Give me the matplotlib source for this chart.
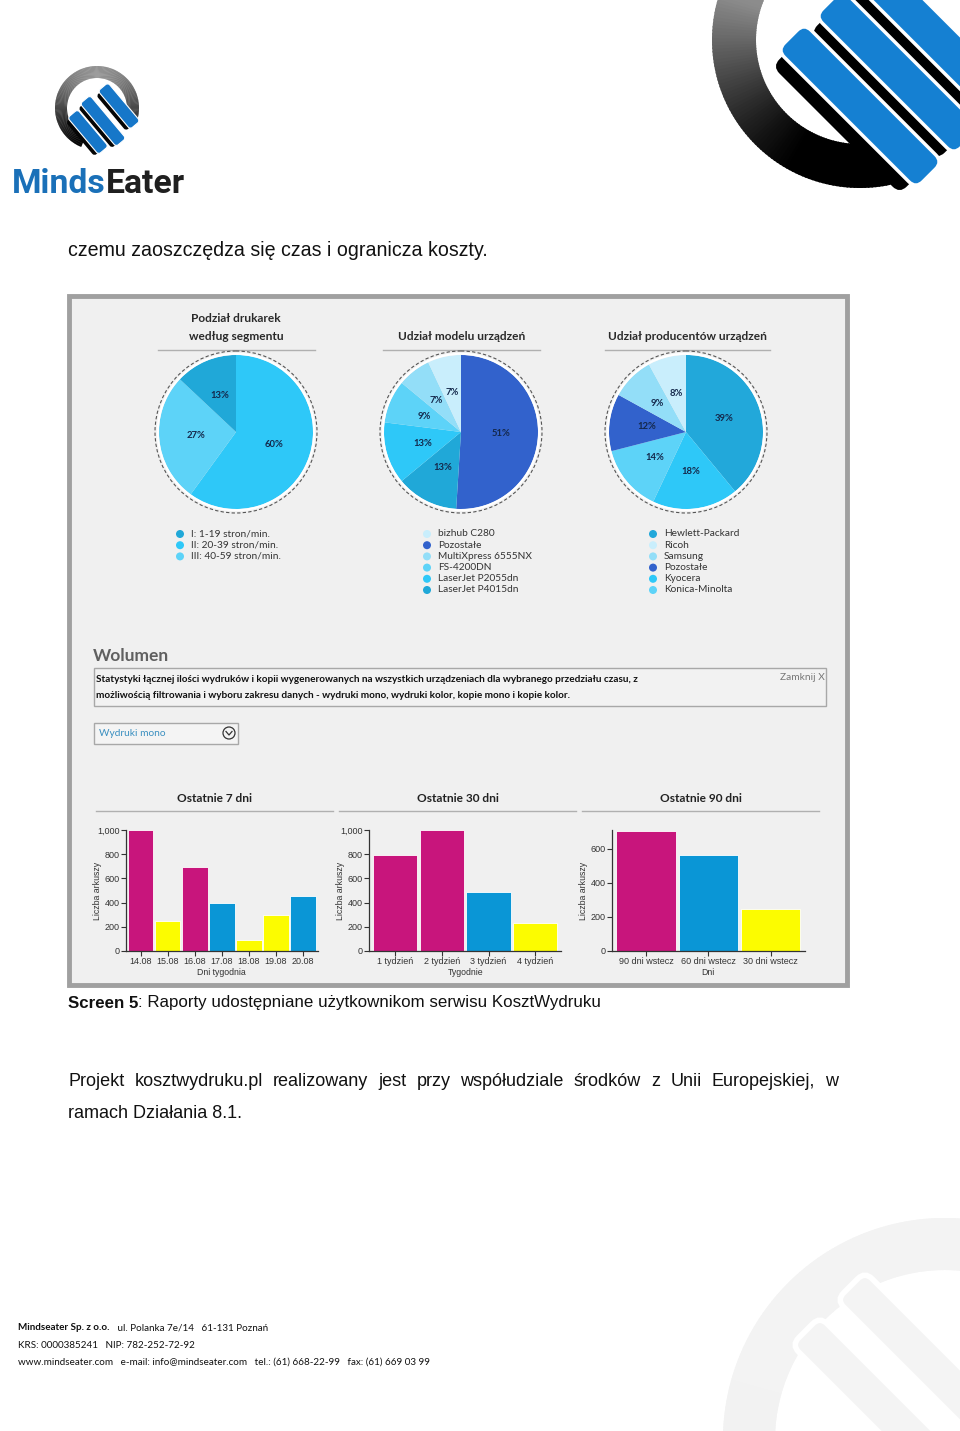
import numpy as np
import matplotlib
matplotlib.use("Agg")
import matplotlib.pyplot as plt
from matplotlib import font_manager
from matplotlib.patches import Rectangle, Circle, Wedge, FancyBboxPatch
from matplotlib.transforms import Affine2D
from matplotlib.ticker import FuncFormatter

# ---------------------------------------------------------------------------
#  Data
# ---------------------------------------------------------------------------

segment_title = "Podział drukarek\nwedług segmentu"
segment_shares = [60, 27, 13]
segment_colors = ["#2ec8f8", "#5dd3f8", "#20a8d8"]
segment_legend = ["I: 1-19 stron/min.", "II: 20-39 stron/min.", "III: 40-59 stron/min."]
segment_legend_colors = ["#20a8d8", "#2ec8f8", "#5dd3f8"]

model_title = "Udział modelu urządzeń"
model_shares = [51, 13, 13, 9, 7, 7]
model_colors = ["#3262cc", "#20a8d8", "#2ec8f8", "#5dd3f8", "#93def8", "#c9eefc"]
model_legend = ["bizhub C280", "Pozostałe", "MultiXpress 6555NX", "FS-4200DN",
                "LaserJet P2055dn", "LaserJet P4015dn"]
model_legend_colors = ["#c9eefc", "#3262cc", "#93def8", "#5dd3f8", "#2ec8f8", "#20a8d8"]

vendor_title = "Udział producentów urządzeń"
vendor_shares = [39, 18, 14, 12, 9, 8]
vendor_colors = ["#22a8da", "#2ec8f8", "#5dd3f8", "#3262cc", "#93def8", "#c9eefc"]
vendor_legend = ["Hewlett-Packard", "Ricoh", "Samsung", "Pozostałe", "Kyocera", "Konica-Minolta"]
vendor_legend_colors = ["#22a8da", "#c9eefc", "#93def8", "#3262cc", "#2ec8f8", "#5dd3f8"]

MAG, BLU, YEL = "#c8157c", "#0a96d6", "#fcfc00"

week_labels = ["14.08", "15.08", "16.08", "17.08", "18.08", "19.08", "20.08"]
week_values = [1000, 250, 695, 395, 92, 300, 453]
week_colors = [MAG, YEL, MAG, BLU, YEL, YEL, BLU]

month_labels = ["1 tydzień", "2 tydzień", "3 tydzień", "4 tydzień"]
month_values = [797, 1000, 486, 228]
month_colors = [MAG, MAG, BLU, YEL]

quarter_labels = ["90 dni wstecz", "60 dni wstecz", "30 dni wstecz"]
quarter_values = [707, 562, 246]
quarter_colors = [MAG, BLU, YEL]

# ---------------------------------------------------------------------------
#  Page set-up (pixel coordinates, y downwards)
# ---------------------------------------------------------------------------

W, H = 960, 1431
BODY = "Liberation Sans"
UI = "Lato"
installed = {f.name for f in font_manager.fontManager.ttflist}
LOGO = "Liberation Sans Narrow" if "Liberation Sans Narrow" in installed else "Roboto"

fig = plt.figure(figsize=(W / 100, H / 100), dpi=100)
fig.patch.set_facecolor("white")
page = fig.add_axes([0, 0, 1, 1])
page.set_xlim(0, W)
page.set_ylim(H, 0)
page.axis("off")
renderer = fig.canvas.get_renderer()


def px_axes(x0, y0, x1, y1):
    return fig.add_axes([x0 / W, 1 - y1 / H, (x1 - x0) / W, (y1 - y0) / H])


def text_width(t):
    return t.get_window_extent(renderer).width


def grad_ring(cx, cy, r, w, t1, t2, ytop, ybot, ctop, cbot, n=160):
    ctop, cbot = np.array(ctop), np.array(cbot)
    ts = np.linspace(t1, t2, n + 1)
    for a, b in zip(ts[:-1], ts[1:]):
        yy = cy + (r - w / 2) * np.sin(np.radians((a + b) / 2))
        f = np.clip((yy - ytop) / (ybot - ytop), 0, 1)
        page.add_patch(Wedge((cx, cy), r, a, b + 0.6, width=w,
                             color=ctop * (1 - f) + cbot * f, lw=0))


def slab(cx, cy, length, width, angle, color, rs, z=3, ec="none", lw=0):
    p = FancyBboxPatch((-length / 2, -width / 2), length, width,
                       boxstyle=f"round,pad=0,rounding_size={rs}",
                       fc=color, ec=ec, lw=lw, zorder=z,
                       transform=Affine2D().rotate_deg(angle).translate(cx, cy) + page.transData)
    page.add_patch(p)


# ---------------------------------------------------------------------------
#  Logos
# ---------------------------------------------------------------------------

# small logo, top left
grad_ring(97, 108, 42, 12, 112, 382, 66, 140, (0.62, 0.62, 0.62), (0.02, 0.02, 0.02))
for cx, cy, ln in [(88, 132, 48), (103, 121, 56), (119, 106, 50)]:
    slab(cx - 3, cy + 3, ln - 4, 13, 50, "#050505", 3, z=3)
    slab(cx, cy, ln, 13, 50, "#1677c9", 3, z=4, ec="white", lw=0.8)
t1 = page.text(12, 193, "Minds", color="#1a70b8", fontsize=28, fontweight="bold",
               family=LOGO, va="baseline")
t2 = page.text(12, 193, "Eater", color="#1f1f1f", fontsize=28, fontweight="bold",
               family=LOGO, va="baseline")
scale = 173 / (text_width(t1) + text_width(t2))
t1.set_fontsize(28 * scale)
t2.set_fontsize(28 * scale)
t2.set_x(12 + text_width(t1))

# large logo fragment, top right
grad_ring(860, 40, 148, 44, 78, 300, 0, 150, (0.55, 0.55, 0.55), (0.0, 0.0, 0.0))
for cx, cy in [(860, 106), (898, 72), (936, 38)]:
    slab(cx - 12, cy + 12, 180, 34, 45, "#000000", 10, z=3)
    slab(cx, cy, 196, 38, 45, "#1580d2", 10, z=4, ec="white", lw=2.5)

# watermark, bottom right
grad_ring(945, 1440, 222, 52, 180, 300, 1200, 1431, (0.955, 0.955, 0.955), (0.95, 0.95, 0.95))
for cx, cy in [(880, 1405), (925, 1360)]:
    slab(cx, cy, 210, 40, 45, "#f4f4f4", 10, z=3, ec="white", lw=4)

# ---------------------------------------------------------------------------
#  Body text
# ---------------------------------------------------------------------------

page.text(68, 250, "czemu zaoszczędza się czas i ogranicza koszty.", family=BODY,
          fontsize=14.1, va="center", color="#111")

# screenshot frame
page.add_patch(Rectangle((69, 296), 778, 689, fc="#f0f0f0", ec="#a0a0a0", lw=3.5, zorder=1))

# ---------------------------------------------------------------------------
#  Pie charts
# ---------------------------------------------------------------------------

pies = [
    (236, segment_title, segment_shares, segment_colors, 158, 315),
    (461, model_title, model_shares, model_colors, 383, 540),
    (686, vendor_title, vendor_shares, vendor_colors, 605, 770),
]
for cx, title, shares, colors, u0, u1 in pies:
    cy = 432
    if "\n" in title:
        l1, l2 = title.split("\n")
        page.text(cx, 318, l1, ha="center", va="center", family=UI, fontweight="bold",
                  fontsize=8.6, color="#2a2a2a")
        page.text(cx, 337, l2, ha="center", va="center", family=UI, fontweight="bold",
                  fontsize=8.6, color="#2a2a2a")
    else:
        page.text((u0 + u1) / 2, 337, title, ha="center", va="center", family=UI,
                  fontweight="bold", fontsize=8.6, color="#2a2a2a")
    page.plot([u0, u1], [350, 350], color="#b0b0b0", lw=1)
    page.add_patch(Circle((cx, cy), 81, fill=False, ec="#555", lw=0.8,
                          ls=(0, (3, 2)), zorder=2))
    ax = px_axes(cx - 90, cy - 90, cx + 90, cy + 90)
    ax.pie(shares, colors=colors, startangle=90, counterclock=False, radius=77,
           autopct=lambda p: f"{p:.0f}%", pctdistance=0.52,
           wedgeprops=dict(lw=0),
           textprops=dict(fontsize=6.8, fontweight="bold", color="#14284b", family=UI))
    ax.add_patch(Circle((0, 0), 78.2, fill=False, ec="white", lw=1.6))
    ax.set_xlim(-90, 90)
    ax.set_ylim(-90, 90)
    ax.set_aspect("equal")
    ax.axis("off")

legends = [
    (180, segment_legend, segment_legend_colors),
    (427, model_legend, model_legend_colors),
    (653, vendor_legend, vendor_legend_colors),
]
for mx, labels, colors in legends:
    for i, (lab, c) in enumerate(zip(labels, colors)):
        y = 534 + i * 11.2
        page.add_patch(Circle((mx, y), 4, fc=c, ec="none", zorder=3))
        page.text(mx + 11, y, lab, family=UI, fontsize=7.3, va="center", color="#333")

# ---------------------------------------------------------------------------
#  Volume section
# ---------------------------------------------------------------------------

page.text(93, 656, "Wolumen", family=UI, fontsize=12.5, fontweight="bold", va="center",
          color="#606060")
page.add_patch(Rectangle((94, 668), 732, 38, fc="#f2f2f2", ec="#a8a8a8", lw=1, zorder=2))
page.text(96, 679, "Statystyki łącznej ilości wydruków i kopii wygenerowanych na wszystkich "
          "urządzeniach dla wybranego przedziału czasu, z", family=UI, fontweight="bold",
          fontsize=7.2, va="center", color="#111", zorder=3)
page.text(96, 696, "możliwością filtrowania i wyboru zakresu danych - wydruki mono, wydruki kolor, "
          "kopie mono i kopie kolor.", family=UI, fontweight="bold",
          fontsize=7.2, va="center", color="#111", zorder=3)
page.text(825, 678, "Zamknij X", family=UI, fontsize=7.3, va="center", ha="right",
          color="#777", zorder=3)

page.add_patch(Rectangle((94, 723), 144, 21, fc="#f4f4f4", ec="#a8a8a8", lw=1, zorder=2))
page.text(99, 734, "Wydruki mono", family=UI, fontsize=7.3, va="center", color="#3a8fc0", zorder=3)
page.add_patch(Circle((229, 733), 6, fill=False, ec="#333", lw=0.9, zorder=3))
page.plot([226, 229, 232], [731.5, 735, 731.5], color="#333", lw=0.9, zorder=3)

# ---------------------------------------------------------------------------
#  Bar charts
# ---------------------------------------------------------------------------

bar_charts = [
    ("Ostatnie 7 dni", 96, 333, (125.7, 317.7), 1000, [0, 200, 400, 600, 800, 1000],
     week_labels, week_values, week_colors, "Dni tygodnia"),
    ("Ostatnie 30 dni", 339, 576, (369.3, 561), 1000, [0, 200, 400, 600, 800, 1000],
     month_labels, month_values, month_colors, "Tygodnie"),
    ("Ostatnie 90 dni", 582, 819, (611.7, 805), 711, [0, 200, 400, 600],
     quarter_labels, quarter_values, quarter_colors, "Dni"),
]
for title, u0, u1, (x0, x1), ytop, yticks, labels, values, colors, xlab in bar_charts:
    page.text((u0 + u1) / 2, 799, title, ha="center", va="center", family=UI,
              fontweight="bold", fontsize=8.6, color="#222")
    page.plot([u0, u1], [811, 811], color="#b0b0b0", lw=1)
    ax = px_axes(x0, 830, x1, 951)
    ax.patch.set_alpha(0)
    n = len(values)
    ax.bar(range(n), values, width=0.95, color=colors, edgecolor="white", linewidth=0.6)
    ax.set_xlim(-0.55, n - 0.45)
    ax.set_ylim(0, ytop)
    ax.set_xticks(range(n))
    ax.set_xticklabels(labels)
    ax.set_yticks(yticks)
    ax.yaxis.set_major_formatter(FuncFormatter(lambda v, _: f"{int(v):,}"))
    for s in ("top", "right"):
        ax.spines[s].set_visible(False)
    for s in ("left", "bottom"):
        ax.spines[s].set_color("#333")
        ax.spines[s].set_linewidth(0.9)
    ax.tick_params(length=3.5, width=0.8, color="#333", labelsize=6.5, labelcolor="#333", pad=1)
    for lab in ax.get_xticklabels() + ax.get_yticklabels():
        lab.set_family(BODY)
    ax.set_ylabel("Liczba arkuszy", family=BODY, fontsize=6.3, color="#333")
    ax.yaxis.set_label_coords(-24 / (x1 - x0), 0.5)
    ax.set_xlabel(xlab, family=BODY, fontsize=6.3, color="#333")
    ax.xaxis.set_label_coords(0.5, -0.14)

# ---------------------------------------------------------------------------
#  Caption, paragraph and footer
# ---------------------------------------------------------------------------

t = page.text(68, 1003, "Screen 5", family=BODY, fontsize=12.2, fontweight="bold",
              va="center", color="#111")
page.text(68 + text_width(t), 1003, ": Raporty udostępniane użytkownikom serwisu KosztWydruku",
          family=BODY, fontsize=12.2, va="center", color="#111")


def justify(line, xa, xb, y, **kw):
    words = line.split()
    items = [page.text(0, y, w_, va="center", **kw) for w_ in words]
    widths = [text_width(it) for it in items]
    gap = (xb - xa - sum(widths)) / (len(words) - 1)
    x = xa
    for it, wd in zip(items, widths):
        it.set_x(x)
        x += wd + gap


justify("Projekt kosztwydruku.pl realizowany jest przy współudziale środków z Unii Europejskiej, w",
        68, 838, 1081, family=BODY, fontsize=13, color="#111")
page.text(68, 1113, "ramach Działania 8.1.", family=BODY, fontsize=13, va="center", color="#111")

t = page.text(18, 1328, "Mindseater Sp. z o.o.", family=UI, fontsize=7.1, fontweight="bold",
              va="center", color="#111")
page.text(18 + text_width(t), 1328, "   ul. Polanka 7e/14   61-131 Poznań", family=UI,
          fontsize=7.1, va="center", color="#111")
page.text(18, 1345, "KRS: 0000385241   NIP: 782-252-72-92", family=UI, fontsize=7.1,
          va="center", color="#111")
page.text(18, 1362, "www.mindseater.com   e-mail: info@mindseater.com   tel.: (61) 668-22-99   "
          "fax: (61) 669 03 99", family=UI, fontsize=7.1, va="center", color="#111")

fig.savefig("out.png", dpi=100, facecolor="white")
